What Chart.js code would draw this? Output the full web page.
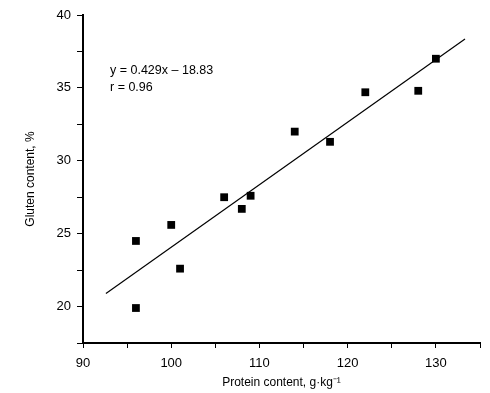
<!DOCTYPE html>
<html>
<head>
<meta charset="utf-8">
<script src="https://cdn.jsdelivr.net/npm/chart.js@4/dist/chart.umd.min.js"></script>
<style>
  html, body { margin: 0; padding: 0; background: #fff; }
  #wrap { width: 490px; height: 393px; }
</style>
</head>
<body>
<div id="wrap"><canvas id="myChart" width="490" height="393"></canvas></div>
<script>
// measured points
const protein = [96, 96, 100, 101, 106, 108, 109, 114, 118, 122, 128, 130];
const gluten = [24.5, 19.9, 25.6, 22.6, 27.5, 26.7, 27.6, 32.0, 31.3, 34.7, 34.8, 37.0];

// regression line ends
const fitX = [92.6, 133.3];
const fitY = [20.9, 38.35];

const equationText = ['y = 0.429x \u2013 18.83', 'r = 0.96'];

const FONT = "'Liberation Sans', Arial, sans-serif";

const points = protein.map((x, i) => ({x: x, y: gluten[i]}));
const fitLine = fitX.map((x, i) => ({x: x, y: fitY[i]}));

const equationLabel = {
  id: 'equationLabel',
  afterDatasetsDraw(chart) {
    const {ctx} = chart;
    ctx.save();
    ctx.font = '12.5px ' + FONT;
    ctx.fillStyle = '#000';
    ctx.textAlign = 'left';
    ctx.textBaseline = 'middle';
    ctx.fillText(equationText[0], 110, 71);
    ctx.fillText(equationText[1], 110, 88);
    ctx.restore();
  }
};

const config = {
  type: 'scatter',
  data: {
    datasets: [{
      label: 'fit',
      data: fitLine,
      showLine: true,
      borderColor: '#000',
      borderWidth: 1.2,
      pointRadius: 0,
      fill: false
    }, {
      label: 'samples',
      data: points,
      pointStyle: 'rect',
      pointRadius: 5.5,
      backgroundColor: '#000',
      borderColor: '#000',
      borderWidth: 0
    }]
  },
  options: {
    responsive: false,
    animation: false,
    layout: { padding: { left: 0, right: 10, top: 15, bottom: 0 } },
    plugins: {
      legend: { display: false },
      tooltip: { enabled: false }
    },
    scales: {
      x: {
        type: 'linear',
        min: 90,
        max: 135,
        border: { display: true, color: '#000', width: 2 },
        grid: { drawOnChartArea: false, drawTicks: true, tickLength: 5, color: '#000' },
        ticks: {
          stepSize: 5,
          padding: 8,
          color: '#000',
          font: { family: FONT, size: 13 },
          callback: v => (v % 10 === 0 ? v : '')
        },
        title: {
          display: true,
          text: 'Protein content, g\u00b7kg\u207b\u00b9',
          color: '#000',
          font: { family: FONT, size: 12 },
          padding: { top: 3, bottom: 3 }
        },
        afterFit(scale) { scale.height = 50; }
      },
      y: {
        type: 'linear',
        min: 17.5,
        max: 40,
        border: { display: true, color: '#000', width: 2 },
        grid: { drawOnChartArea: false, drawTicks: true, tickLength: 6, color: '#000' },
        ticks: {
          stepSize: 2.5,
          padding: 6,
          color: '#000',
          font: { family: FONT, size: 13 },
          callback: v => (v % 5 === 0 ? v : '')
        },
        title: {
          display: true,
          text: 'Gluten content, %',
          color: '#000',
          font: { family: FONT, size: 12 },
          padding: { top: 23, bottom: 0 }
        },
        afterFit(scale) { scale.width = 83; }
      }
    }
  },
  plugins: [equationLabel]
};

const myChart = new Chart(document.getElementById('myChart'), config);
</script>
</body>
</html>
